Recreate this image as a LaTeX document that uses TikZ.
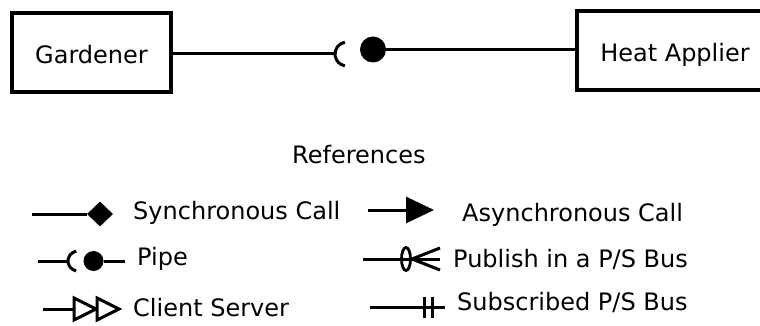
\documentclass[tikz,border=0pt]{standalone}
\usepackage{fontspec}
\setmainfont{DejaVu Sans}
\usetikzlibrary{arrows.meta,shapes.geometric}
\tikzset{
  txt/.style={font=\fontsize{24pt}{28pt}\selectfont, inner sep=0pt, anchor=base west},
  boxnode/.style={draw, line width=3.5pt, font=\fontsize{24pt}{28pt}\selectfont,
    text height=22pt, text depth=0pt, inner sep=0pt},
  conn/.style={line width=3pt},
  lg/.style={line width=3pt},
  ballnode/.style={circle, fill=black, inner sep=0pt},
}
\begin{document}
\begin{tikzpicture}[x=1pt,y=-1pt]
\useasboundingbox (0,0) rectangle (760,326);

% main diagram
\node[boxnode, minimum width=159pt, minimum height=79pt] (gard) at (91.5,52.5) {Gardener};
\node[boxnode, minimum width=196pt, minimum height=79pt] (heat) at (675,50.5) {Heat Applier};
\coordinate (sockc) at (347,54);
\coordinate (sock) at (335,54);
\node[ballnode, minimum size=26pt] (ball) at (373,49.5) {};
\draw[conn] (gard.east |- sock) -- (sock);
\draw[conn] (sockc) ++(100:12pt) arc[start angle=100, end angle=260, radius=12pt];
\draw[conn] (ball) -- (heat.west |- ball);

\node[txt] (refs) at (292,164) {References};

% row 1
\coordinate (s1a) at (32,214);
\node[diamond, fill=black, inner sep=0pt, minimum width=26pt, minimum height=25pt] (s1d) at (100,214) {};
\draw[lg] (s1a) -- (s1d);
\node[txt] (t1) at (133,219) {Synchronous Call};

\coordinate (a1a) at (368,210);
\coordinate (a1b) at (434,210);
\draw[lg, -{Triangle[length=28pt,width=26pt]}] (a1a) -- (a1b);
\node[txt] (t2) at (462,221) {Asynchronous Call};

% row 2
\coordinate (p1a) at (38,261);
\coordinate (p1s) at (68,261);
\coordinate (p1c) at (78,261);
\node[ballnode, minimum size=20pt] (p1b) at (93.5,261) {};
\coordinate (p1e) at (125,261);
\draw[lg] (p1a) -- (p1s);
\draw[lg] (p1c) ++(100:10pt) arc[start angle=100, end angle=260, radius=10pt];
\draw[lg] (p1b) -- (p1e);
\node[txt] (t3) at (137,265) {Pipe};

\coordinate (q1a) at (363,259);
\coordinate (q1e) at (440,259);
\coordinate (q1v) at (412,259);
\coordinate (q1t) at (440,248);
\coordinate (q1b) at (440,270);
\draw[lg] (q1a) -- (q1e);
\node[ellipse, draw, line width=2.8pt, inner sep=0pt, minimum width=9pt, minimum height=23pt] (q1o) at (406,259) {};
\draw[lg] (q1t) -- (q1v) -- (q1b);
\node[txt] (t4) at (453,267) {Publish in a P/S Bus};

% row 3
\coordinate (c1a) at (43,309);
\coordinate (c1t1) at (74,298);
\coordinate (c1p1) at (96,309);
\coordinate (c1b1) at (74,320);
\coordinate (c1t2) at (97,298);
\coordinate (c1p2) at (119,309);
\coordinate (c1b2) at (97,320);
\draw[lg] (c1a) -- (c1t1 |- c1a);
\draw[lg, line join=miter, fill=white] (c1t1) -- (c1p1) -- (c1b1) -- cycle;
\draw[lg, line join=miter, fill=white] (c1t2) -- (c1p2) -- (c1b2) -- cycle;
\node[txt] (t5) at (133,316) {Client Server};

\coordinate (b1a) at (370,307);
\coordinate (b1e) at (445,307);
\draw[lg] (b1a) -- (b1e);
\coordinate (bar1t) at (424,297);
\coordinate (bar1b) at (424,318);
\coordinate (bar2t) at (432,297);
\coordinate (bar2b) at (432,318);
\draw[lg] (bar1t) -- (bar1b);
\draw[lg] (bar2t) -- (bar2b);
\node[txt] (t6) at (457,310) {Subscribed P/S Bus};
\end{tikzpicture}
\end{document}
